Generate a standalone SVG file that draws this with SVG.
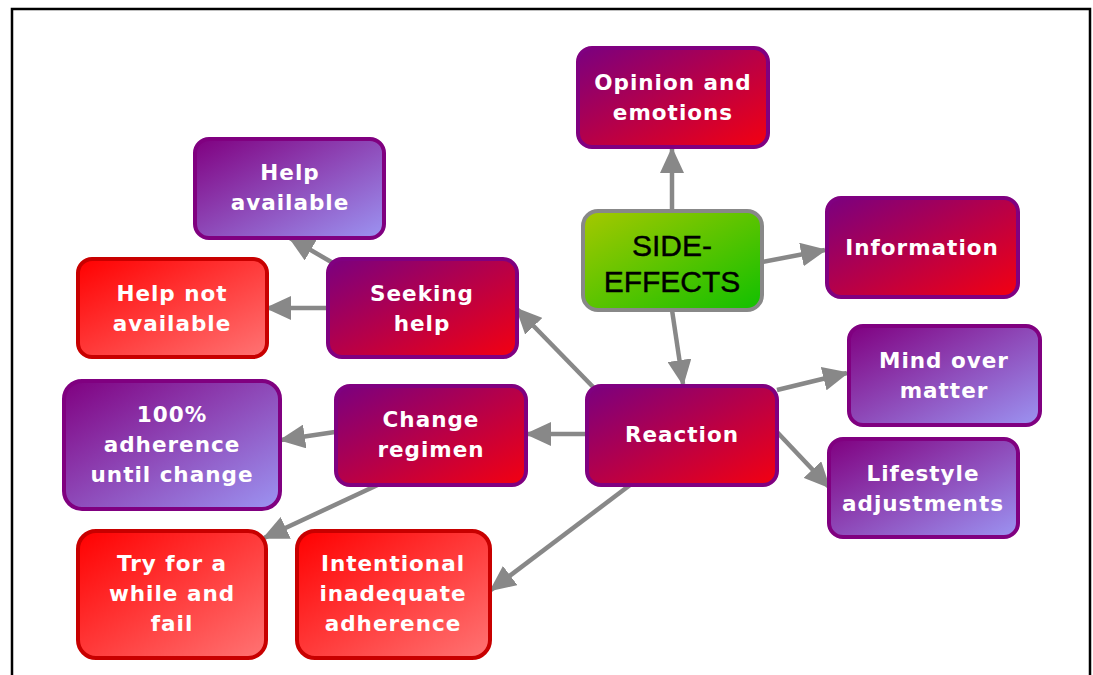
<svg xmlns="http://www.w3.org/2000/svg" width="1093" height="675" viewBox="0 0 1093 675">
<defs>
<linearGradient id="gPR" x1="0" y1="0" x2="1" y2="1"><stop offset="0" stop-color="#7a0080"/><stop offset="1" stop-color="#f40010"/></linearGradient>
<linearGradient id="gPL" x1="0" y1="0" x2="1" y2="1"><stop offset="0" stop-color="#800080"/><stop offset="1" stop-color="#9c94f2"/></linearGradient>
<linearGradient id="gR" x1="0" y1="0" x2="1" y2="1"><stop offset="0" stop-color="#ff0000"/><stop offset="1" stop-color="#ff7474"/></linearGradient>
<linearGradient id="gG" x1="0" y1="0" x2="1" y2="1"><stop offset="0" stop-color="#a6c800"/><stop offset="1" stop-color="#10c000"/></linearGradient>
<marker id="ah" markerUnits="userSpaceOnUse" markerWidth="26" markerHeight="24" refX="24" refY="12" orient="auto"><path d="M0,0 L26,12 L0,24 Z" fill="#888888"/></marker>
</defs>
<style>
.pr{fill:url(#gPR);stroke:#800080;stroke-width:4}
.pl{fill:url(#gPL);stroke:#800080;stroke-width:4}
.rd{fill:url(#gR);stroke:#c80000;stroke-width:4}
.gr{fill:url(#gG);stroke:#888888;stroke-width:4}
.t{font-family:"DejaVu Sans",Verdana,sans-serif;font-weight:bold;font-size:21.5px;fill:#ffffff;text-anchor:middle;letter-spacing:1px}
.tb{font-family:"Liberation Sans",Arial,sans-serif;font-size:30px;fill:#000000;text-anchor:middle;stroke:#000000;stroke-width:0.4}
.c{stroke:#888888;stroke-width:4.5;fill:none;marker-end:url(#ah)}
</style>
<rect x="0" y="0" width="1093" height="675" fill="#ffffff"/>
<path d="M12,675 V9 H1090 V675" fill="none" stroke="#000000" stroke-width="2.5"/>
<g id="connectors">
<line class="c" x1="672" y1="210" x2="672" y2="149"/>
<line class="c" x1="762" y1="262" x2="825" y2="250"/>
<line class="c" x1="672" y1="310" x2="683" y2="384"/>
<line class="c" x1="597" y1="391" x2="517" y2="309"/>
<line class="c" x1="777" y1="390" x2="847" y2="373"/>
<line class="c" x1="777" y1="432" x2="829" y2="487"/>
<line class="c" x1="586" y1="434" x2="527" y2="434"/>
<line class="c" x1="634" y1="482" x2="491" y2="590"/>
<line class="c" x1="335" y1="432" x2="281" y2="440"/>
<line class="c" x1="384" y1="482" x2="264" y2="538"/>
<line class="c" x1="327" y1="308" x2="267" y2="308"/>
<line class="c" x1="333" y1="263" x2="290" y2="238"/>
</g>
<g id="opinion"><rect class="pr" x="578" y="48" width="190" height="99" rx="14"/><text class="t" x="673" y="90">Opinion and</text><text class="t" x="673" y="120">emotions</text></g>
<g id="side-effects"><rect class="gr" x="583" y="211" width="179" height="99" rx="15"/><text class="tb" x="672" y="256">SIDE-</text><text class="tb" x="672" y="292">EFFECTS</text></g>
<g id="information"><rect class="pr" x="827" y="198" width="191" height="99" rx="14"/><text class="t" x="922" y="255">Information</text></g>
<g id="help-available"><rect class="pl" x="195" y="139" width="189" height="99" rx="14"/><text class="t" x="290" y="180">Help</text><text class="t" x="290" y="210">available</text></g>
<g id="seeking-help"><rect class="pr" x="328" y="259" width="189" height="98" rx="14"/><text class="t" x="422" y="301">Seeking</text><text class="t" x="422" y="331">help</text></g>
<g id="help-not-available"><rect class="rd" x="78" y="259" width="189" height="98" rx="14"/><text class="t" x="172" y="301">Help not</text><text class="t" x="172" y="331">available</text></g>
<g id="mind-over-matter"><rect class="pl" x="849" y="326" width="191" height="99" rx="14"/><text class="t" x="944" y="368">Mind over</text><text class="t" x="944" y="398">matter</text></g>
<g id="reaction"><rect class="pr" x="587" y="386" width="190" height="99" rx="14"/><text class="t" x="682" y="442">Reaction</text></g>
<g id="change-regimen"><rect class="pr" x="336" y="386" width="190" height="99" rx="14"/><text class="t" x="431" y="427">Change</text><text class="t" x="431" y="457">regimen</text></g>
<g id="adherence-100"><rect class="pl" x="64" y="381" width="216" height="128" rx="18"/><text class="t" x="172" y="422">100%</text><text class="t" x="172" y="452">adherence</text><text class="t" x="172" y="482">until change</text></g>
<g id="lifestyle"><rect class="pl" x="829" y="439" width="189" height="98" rx="14"/><text class="t" x="923" y="481">Lifestyle</text><text class="t" x="923" y="511">adjustments</text></g>
<g id="try-fail"><rect class="rd" x="78" y="531" width="188" height="127" rx="18"/><text class="t" x="172" y="571">Try for a</text><text class="t" x="172" y="601">while and</text><text class="t" x="172" y="631">fail</text></g>
<g id="intentional"><rect class="rd" x="297" y="531" width="193" height="127" rx="18"/><text class="t" x="393" y="571">Intentional</text><text class="t" x="393" y="601">inadequate</text><text class="t" x="393" y="631">adherence</text></g>
</svg>
